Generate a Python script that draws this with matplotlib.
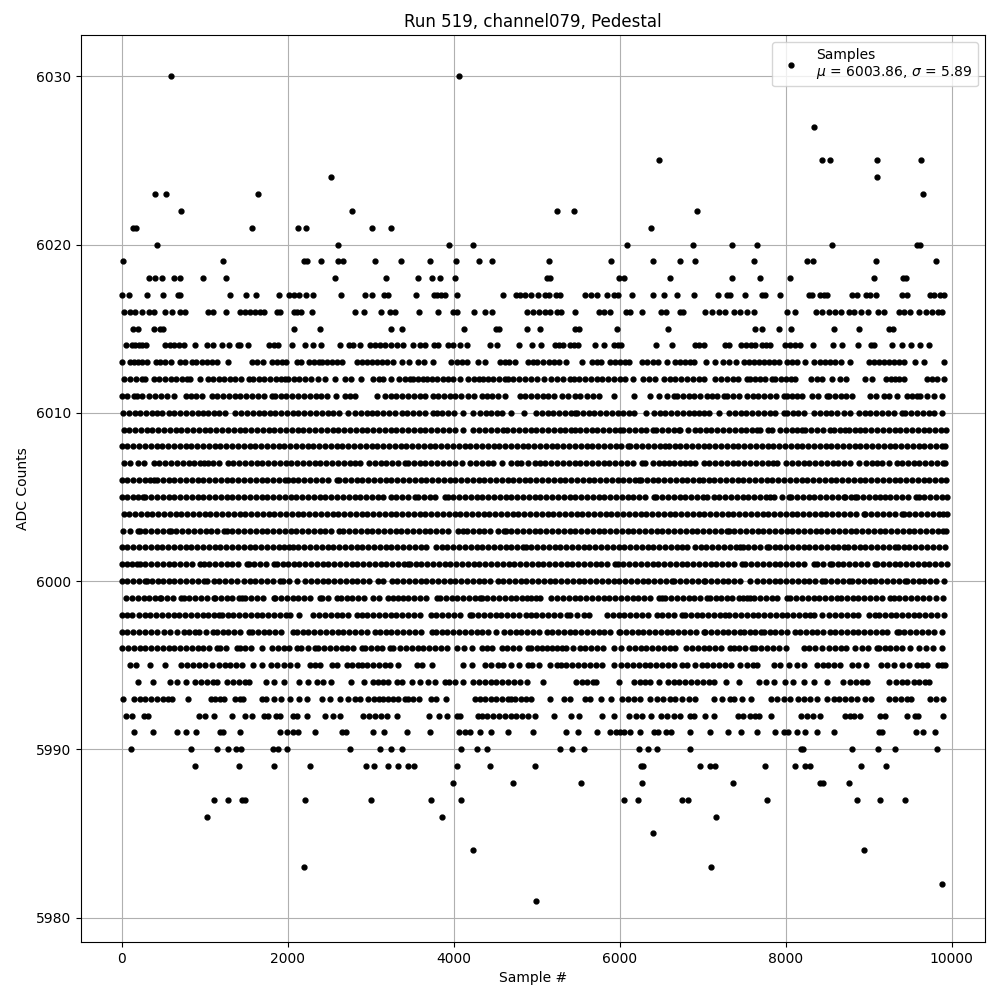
import matplotlib
matplotlib.use("Agg")
import matplotlib.pyplot as plt

# Sample numbers, one list per ADC count
adc_6030 = [600, 4060]
adc_6027 = [8337]
adc_6025 = [6470, 8434, 8530, 9096, 9626]
adc_6024 = [2518, 9096]
adc_6023 = [397, 530, 1648, 9650]
adc_6022 = [710, 2770, 5240, 5450, 6928]
adc_6021 = [135, 177, 1564, 2120, 2216, 3010, 3250, 6373]
adc_6020 = [421, 2600, 3946, 4235, 6084, 6880, 7349, 7650, 8554, 9582, 9622]
adc_6019 = [12, 1215, 2194, 2230, 2406, 2607, 2670, 3056, 3369, 3717, 4030, 4307, 4463, 5145, 5892, 6398, 6723, 6903,
            7614, 8253, 8325, 9084, 9807]
adc_6018 = [329, 401, 481, 626, 698, 974, 1251, 2574, 3188, 3573, 3741, 3834, 4018, 5125, 5165, 5988, 6048, 6602, 7349,
            7690, 8056, 9064, 9414, 9454]
adc_6017 = [0, 84, 300, 493, 674, 706, 1299, 1492, 1624, 1901, 2021, 2081, 2133, 2222, 2302, 2647, 2935, 3020, 3160,
            3204, 3549, 3766, 3802, 3842, 3898, 4042, 4595, 4756, 4804, 4856, 4932, 5020, 5105, 5145, 5237, 5285, 5578,
            5651, 5723, 5843, 5928, 5980, 6145, 6398, 6530, 6687, 6892, 7181, 7293, 7333, 7506, 7715, 7755, 7928, 8277,
            8317, 8418, 8458, 8498, 8803, 8859, 8972, 9020, 9084, 9401, 9462, 9735, 9791, 9855, 9904]
adc_6016 = [24, 96, 165, 241, 325, 385, 526, 606, 706, 762, 1036, 1096, 1251, 1428, 1488, 1548, 1608, 1668, 1720, 1869,
            1909, 2070, 2110, 2166, 2298, 2815, 2923, 3120, 3233, 3297, 3585, 3814, 3986, 4042, 4248, 4376, 4463, 4884,
            4950, 5024, 5104, 5165, 5245, 5293, 5458, 5747, 5815, 5880, 6080, 6128, 6265, 6498, 6562, 6723, 6763, 7032,
            7112, 7193, 7273, 7373, 7454, 7534, 7622, 8012, 8116, 8369, 8438, 8518, 8598, 8667, 8759, 8819, 8904, 8992,
            9108, 9181, 9370, 9430, 9502, 9602, 9687, 9763, 9831, 9888]
adc_6015 = [132, 193, 385, 458, 498, 2078, 2391, 3241, 3373, 4120, 4505, 4549, 4884, 5036, 5458, 5514, 5964, 6578, 7626,
            7711, 7915, 8060, 8578, 8880, 9245, 9293]
adc_6014 = [48, 124, 165, 205, 245, 293, 525, 578, 626, 686, 746, 878, 1024, 1096, 1203, 1288, 1396, 1428, 1516, 1777,
            1829, 1889, 2046, 2214, 2310, 2406, 2635, 2743, 2791, 2871, 2988, 3056, 3116, 3176, 3241, 3317, 3385, 3505,
            3597, 3658, 3758, 3806, 3934, 3994, 4078, 4154, 4433, 4517, 4784, 4941, 5056, 5217, 5265, 5317, 5398, 5446,
            5498, 5707, 5811, 5928, 5976, 6016, 6434, 6626, 6912, 6960, 7012, 7273, 7321, 7462, 7526, 7582, 7634, 7715,
            7763, 7815, 7996, 8056, 8116, 8177, 8325, 8566, 8675, 8867, 9028, 9068, 9277, 9398, 9506, 9614, 9723]
adc_6013 = [0, 96, 144, 193, 245, 305, 417, 465, 525, 594, 706, 766, 847, 899, 966, 1027, 1087, 1147, 1275, 1572, 1628,
            1708, 1809, 1869, 1929, 1981, 2110, 2158, 2254, 2314, 2374, 2414, 2478, 2530, 2590, 2651, 2839, 2891, 2951,
            3012, 3072, 3132, 3192, 3273, 3373, 3465, 3565, 3641, 3754, 3962, 4034, 4094, 4154, 4287, 4376, 4555, 4616,
            4668, 4740, 4896, 4957, 5004, 5076, 5145, 5205, 5265, 5353, 5542, 5667, 5727, 5775, 5888, 5948, 6008, 6068,
            6112, 6269, 6329, 6398, 6458, 6574, 6663, 6731, 6791, 6843, 6900, 7044, 7153, 7245, 7313, 7402, 7494, 7554,
            7614, 7675, 7735, 7795, 7855, 7915, 8012, 8072, 8133, 8237, 8345, 8418, 8478, 8538, 8598, 8667, 8779, 8999,
            9060, 9120, 9181, 9241, 9301, 9362, 9430, 9562, 9663, 9904]
adc_6012 = [32, 100, 170, 240, 285, 385, 450, 520, 590, 660, 730, 790, 826, 946, 1035, 1100, 1170, 1235, 1307, 1370,
            1440, 1528, 1588, 1650, 1720, 1790, 1860, 1925, 1969, 2009, 2075, 2140, 2210, 2280, 2370, 2450, 2574, 2691,
            2759, 2880, 3032, 3095, 3152, 3244, 3340, 3410, 3473, 3513, 3575, 3633, 3673, 3735, 3800, 3865, 3930, 3994,
            4078, 4174, 4240, 4300, 4355, 4415, 4476, 4545, 4616, 4656, 4720, 4790, 4860, 4930, 5000, 5084, 5173, 5240,
            5320, 5406, 5446, 5510, 5580, 5650, 5720, 5790, 5860, 5930, 6008, 6068, 6161, 6281, 6349, 6430, 6530, 6600,
            6670, 6740, 6810, 6880, 6950, 7012, 7153, 7220, 7290, 7360, 7430, 7534, 7574, 7635, 7695, 7747, 7835, 7875,
            7940, 8000, 8060, 8116, 8305, 8377, 8438, 8558, 8659, 8731, 8952, 9040, 9213, 9269, 9321, 9370, 9422, 9703,
            9763, 9823, 9912]
adc_6011 = [4, 60, 144, 184, 250, 325, 405, 470, 540, 634, 778, 834, 899, 966, 1087, 1150, 1220, 1290, 1360, 1430, 1500,
            1570, 1640, 1720, 1805, 1845, 1915, 1985, 2055, 2125, 2195, 2265, 2335, 2405, 2475, 2586, 2687, 2750, 2807,
            3072, 3172, 3240, 3310, 3380, 3450, 3520, 3590, 3660, 3754, 3814, 3880, 3950, 4020, 4090, 4174, 4243, 4336,
            4400, 4456, 4536, 4616, 4796, 4860, 4930, 5000, 5070, 5140, 5205, 5305, 5380, 5466, 5526, 5600, 5680, 5747,
            5928, 6169, 6369, 6478, 6570, 6650, 6691, 6760, 6830, 6900, 6970, 7052, 7112, 7173, 7253, 7293, 7365, 7434,
            7534, 7600, 7670, 7740, 7810, 7880, 7976, 8016, 8080, 8140, 8197, 8317, 8385, 8498, 8518, 8590, 8660, 8730,
            8799, 9020, 9085, 9181, 9241, 9341, 9462, 9520, 9582, 9622, 9703, 9783, 9884]
adc_6010 = [16, 85, 155, 225, 295, 365, 430, 485, 565, 635, 705, 775, 845, 915, 975, 1035, 1107, 1175, 1245, 1368, 1436,
            1510, 1580, 1650, 1720, 1788, 1849, 1920, 1990, 2060, 2130, 2200, 2270, 2340, 2410, 2480, 2550, 2620, 2723,
            2811, 2880, 2952, 3012, 3080, 3150, 3220, 3292, 3373, 3440, 3510, 3580, 3650, 3754, 3794, 3860, 3930, 4000,
            4114, 4235, 4316, 4385, 4455, 4525, 4576, 4684, 4844, 4997, 5060, 5130, 5200, 5270, 5340, 5410, 5466, 5486,
            5555, 5625, 5695, 5765, 5835, 5905, 5975, 6045, 6110, 6169, 6317, 6409, 6480, 6550, 6620, 6690, 6760, 6830,
            6900, 6960, 7012, 7072, 7201, 7313, 7385, 7455, 7525, 7595, 7665, 7735, 7805, 7875, 7976, 8016, 8085, 8150,
            8217, 8337, 8410, 8480, 8550, 8620, 8699, 8779, 8880, 8950, 9020, 9090, 9160, 9230, 9300, 9402, 9442, 9510,
            9580, 9650, 9720, 9790, 9884]
adc_6009 = [24, 90, 160, 230, 300, 370, 440, 510, 580, 650, 720, 790, 860, 930, 1000, 1070, 1140, 1210, 1280, 1350,
            1420, 1490, 1560, 1630, 1700, 1770, 1840, 1910, 1980, 2050, 2120, 2190, 2260, 2330, 2400, 2470, 2540, 2610,
            2680, 2750, 2820, 2890, 2960, 3030, 3100, 3170, 3240, 3310, 3380, 3450, 3520, 3590, 3660, 3730, 3800, 3870,
            3940, 4014, 4114, 4235, 4307, 4380, 4450, 4520, 4590, 4636, 4716, 4785, 4855, 4925, 4995, 5065, 5135, 5205,
            5275, 5345, 5415, 5466, 5518, 5590, 5660, 5730, 5800, 5870, 5940, 6000, 6040, 6110, 6180, 6250, 6320, 6402,
            6442, 6510, 6580, 6650, 6711, 6731, 6820, 6903, 6964, 7035, 7105, 7175, 7245, 7315, 7385, 7455, 7525, 7595,
            7654, 7695, 7783, 7835, 7928, 8000, 8070, 8140, 8197, 8237, 8305, 8375, 8445, 8538, 8578, 8650, 8719, 8759,
            8830, 8892, 8960, 9030, 9100, 9170, 9240, 9310, 9380, 9450, 9520, 9590, 9660, 9730, 9800, 9870, 9936]
adc_6008 = [0, 70, 140, 210, 280, 350, 420, 490, 560, 630, 700, 770, 840, 910, 980, 1050, 1120, 1190, 1260, 1330, 1400,
            1470, 1540, 1610, 1680, 1750, 1820, 1890, 1960, 2030, 2100, 2170, 2240, 2310, 2380, 2450, 2520, 2590, 2660,
            2730, 2800, 2870, 2940, 3010, 3080, 3150, 3220, 3290, 3360, 3430, 3500, 3570, 3640, 3710, 3780, 3850, 3920,
            3990, 4060, 4130, 4200, 4270, 4340, 4410, 4480, 4550, 4620, 4690, 4760, 4830, 4900, 4970, 5040, 5110, 5180,
            5250, 5320, 5390, 5460, 5530, 5600, 5670, 5740, 5810, 5880, 5950, 6020, 6100, 6128, 6200, 6270, 6340, 6410,
            6480, 6550, 6590, 6660, 6730, 6800, 6870, 6940, 7010, 7080, 7150, 7220, 7290, 7360, 7430, 7500, 7570, 7640,
            7710, 7780, 7850, 7920, 7990, 8060, 8130, 8200, 8270, 8340, 8410, 8480, 8550, 8620, 8690, 8760, 8830, 8900,
            8970, 9040, 9110, 9180, 9250, 9320, 9390, 9460, 9530, 9600, 9670, 9740, 9810, 9880, 9924]
adc_6007 = [32, 100, 197, 265, 385, 455, 525, 595, 665, 735, 805, 875, 945, 995, 1035, 1099, 1170, 1275, 1347, 1415,
            1485, 1555, 1625, 1695, 1765, 1835, 1905, 1975, 2045, 2115, 2185, 2255, 2325, 2395, 2465, 2535, 2605, 2675,
            2745, 2815, 2871, 2983, 3050, 3120, 3190, 3260, 3330, 3413, 3453, 3520, 3590, 3660, 3730, 3800, 3870, 3940,
            4010, 4094, 4195, 4265, 4335, 4416, 4476, 4576, 4696, 4760, 4816, 4896, 4977, 5040, 5105, 5175, 5245, 5315,
            5385, 5455, 5525, 5595, 5665, 5735, 5805, 5875, 5945, 6015, 6085, 6155, 6269, 6301, 6398, 6470, 6530, 6590,
            6651, 6720, 6790, 6850, 6912, 7012, 7080, 7150, 7220, 7290, 7360, 7430, 7500, 7570, 7640, 7710, 7780, 7850,
            7896, 8004, 8075, 8145, 8215, 8285, 8355, 8425, 8495, 8565, 8635, 8705, 8775, 8880, 8972, 9040, 9100, 9161,
            9241, 9341, 9402, 9470, 9540, 9610, 9680, 9750, 9820, 9890, 9924]
adc_6006 = [0, 70, 140, 210, 280, 340, 385, 425, 495, 565, 635, 705, 775, 845, 915, 985, 1055, 1125, 1195, 1265, 1335,
            1405, 1475, 1545, 1615, 1685, 1755, 1825, 1895, 1965, 2009, 2061, 2130, 2200, 2270, 2340, 2410, 2480, 2591,
            2623, 2690, 2760, 2830, 2900, 2970, 3040, 3110, 3180, 3250, 3320, 3390, 3460, 3530, 3600, 3670, 3740, 3810,
            3880, 3950, 4020, 4090, 4160, 4230, 4300, 4370, 4440, 4510, 4580, 4650, 4720, 4790, 4860, 4924, 4996, 5065,
            5135, 5205, 5275, 5345, 5415, 5485, 5555, 5625, 5695, 5765, 5835, 5905, 5975, 6045, 6115, 6185, 6229, 6257,
            6325, 6395, 6465, 6535, 6605, 6675, 6745, 6815, 6885, 6955, 7004, 7072, 7140, 7210, 7280, 7350, 7420, 7490,
            7560, 7630, 7700, 7770, 7840, 7910, 7980, 8050, 8120, 8190, 8260, 8330, 8400, 8470, 8540, 8610, 8680, 8750,
            8820, 8890, 8960, 9030, 9100, 9170, 9240, 9310, 9380, 9450, 9520, 9590, 9660, 9730, 9800, 9870, 9936]
adc_6005 = [0, 70, 140, 200, 257, 285, 355, 425, 495, 565, 635, 705, 775, 845, 915, 985, 1055, 1125, 1195, 1265, 1335,
            1405, 1475, 1545, 1615, 1685, 1755, 1825, 1895, 1965, 2035, 2105, 2175, 2245, 2315, 2385, 2455, 2525, 2595,
            2665, 2735, 2805, 2875, 2945, 3015, 3085, 3152, 3240, 3310, 3380, 3450, 3533, 3573, 3640, 3710, 3780, 3894,
            3926, 3995, 4065, 4135, 4205, 4275, 4345, 4415, 4485, 4555, 4625, 4695, 4765, 4835, 4905, 4975, 5045, 5115,
            5185, 5255, 5325, 5395, 5465, 5535, 5605, 5675, 5745, 5815, 5885, 5955, 6025, 6095, 6165, 6235, 6305, 6410,
            6442, 6510, 6580, 6650, 6720, 6790, 6860, 6930, 7000, 7052, 7132, 7200, 7270, 7340, 7410, 7480, 7550, 7620,
            7690, 7760, 7815, 7863, 7950, 8036, 8064, 8135, 8205, 8275, 8345, 8415, 8485, 8555, 8625, 8699, 8719, 8780,
            8839, 8859, 8930, 9000, 9070, 9141, 9201, 9261, 9330, 9400, 9470, 9574, 9602, 9670, 9740, 9810, 9880, 9944]
adc_6004 = [24, 90, 160, 230, 300, 370, 440, 510, 580, 650, 720, 790, 860, 930, 1000, 1070, 1140, 1210, 1280, 1350,
            1420, 1490, 1560, 1630, 1700, 1770, 1840, 1910, 1980, 2050, 2120, 2190, 2260, 2330, 2400, 2470, 2540, 2610,
            2680, 2750, 2820, 2890, 2960, 3030, 3100, 3170, 3240, 3310, 3380, 3450, 3520, 3590, 3660, 3730, 3800, 3870,
            3940, 4010, 4080, 4150, 4220, 4290, 4360, 4430, 4500, 4570, 4640, 4710, 4780, 4850, 4924, 4990, 5060, 5130,
            5200, 5270, 5340, 5410, 5480, 5550, 5620, 5690, 5760, 5830, 5900, 5970, 6040, 6110, 6180, 6250, 6320, 6390,
            6460, 6530, 6600, 6670, 6740, 6810, 6880, 6950, 7020, 7090, 7160, 7230, 7300, 7370, 7440, 7510, 7580, 7650,
            7720, 7790, 7860, 7930, 8000, 8070, 8140, 8210, 8280, 8350, 8420, 8490, 8560, 8630, 8700, 8770, 8840, 8940,
            8960, 9030, 9100, 9170, 9240, 9310, 9402, 9422, 9490, 9560, 9630, 9700, 9770, 9840, 9900, 9944]
adc_6003 = [16, 100, 193, 217, 285, 355, 425, 495, 565, 593, 660, 730, 800, 870, 940, 1010, 1080, 1150, 1227, 1267,
            1335, 1405, 1475, 1545, 1615, 1685, 1755, 1825, 1895, 1965, 2035, 2105, 2175, 2245, 2315, 2385, 2455, 2525,
            2623, 2671, 2740, 2810, 2880, 2950, 3020, 3090, 3160, 3230, 3300, 3370, 3440, 3510, 3580, 3650, 3720, 3790,
            3860, 3930, 4046, 4114, 4162, 4230, 4300, 4370, 4440, 4530, 4604, 4628, 4695, 4765, 4835, 4905, 4975, 5045,
            5115, 5185, 5255, 5325, 5395, 5465, 5535, 5605, 5675, 5745, 5815, 5885, 5955, 6025, 6095, 6165, 6235, 6305,
            6375, 6445, 6515, 6585, 6655, 6725, 6795, 6865, 6935, 7005, 7075, 7145, 7215, 7293, 7313, 7380, 7450, 7520,
            7590, 7660, 7730, 7800, 7870, 7940, 8010, 8080, 8150, 8220, 8290, 8360, 8430, 8500, 8570, 8640, 8710, 8780,
            8850, 8920, 8990, 9060, 9130, 9200, 9270, 9340, 9410, 9480, 9550, 9620, 9690, 9760, 9830, 9900, 9936]
adc_6002 = [0, 70, 140, 210, 280, 350, 420, 490, 560, 630, 700, 770, 840, 910, 980, 1050, 1120, 1190, 1260, 1330, 1400,
            1470, 1540, 1610, 1680, 1750, 1820, 1890, 1960, 2021, 2061, 2130, 2200, 2270, 2340, 2410, 2480, 2550, 2620,
            2690, 2760, 2830, 2900, 2970, 3040, 3110, 3180, 3250, 3320, 3390, 3460, 3530, 3600, 3670, 3786, 3854, 3925,
            3995, 4065, 4135, 4205, 4275, 4345, 4415, 4485, 4555, 4625, 4695, 4765, 4836, 4868, 4935, 5005, 5075, 5145,
            5215, 5285, 5355, 5425, 5495, 5565, 5635, 5705, 5775, 5845, 5915, 5985, 6055, 6125, 6195, 6265, 6335, 6405,
            6475, 6545, 6615, 6685, 6750, 6811, 6904, 6975, 7045, 7115, 7185, 7255, 7325, 7395, 7454, 7482, 7550, 7620,
            7690, 7775, 7795, 7865, 7935, 8005, 8075, 8145, 8215, 8285, 8355, 8425, 8495, 8565, 8635, 8699, 8747, 8819,
            8890, 8960, 9030, 9100, 9170, 9240, 9321, 9349, 9420, 9490, 9560, 9630, 9700, 9770, 9840, 9916]
adc_6001 = [0, 70, 130, 185, 217, 285, 355, 425, 495, 565, 635, 705, 775, 845, 946, 986, 1055, 1125, 1195, 1265, 1335,
            1405, 1508, 1528, 1600, 1670, 1740, 1829, 1869, 1949, 2001, 2070, 2140, 2210, 2280, 2350, 2420, 2490, 2560,
            2630, 2700, 2770, 2840, 2910, 2980, 3050, 3120, 3190, 3260, 3330, 3400, 3453, 3473, 3540, 3610, 3680, 3750,
            3820, 3890, 3960, 4030, 4100, 4170, 4240, 4310, 4380, 4450, 4520, 4590, 4660, 4730, 4800, 4870, 4940, 5010,
            5080, 5150, 5220, 5290, 5360, 5430, 5500, 5570, 5640, 5710, 5780, 5850, 5948, 5976, 6045, 6115, 6185, 6255,
            6325, 6395, 6465, 6535, 6605, 6675, 6745, 6815, 6885, 6955, 7025, 7095, 7165, 7235, 7305, 7375, 7474, 7514,
            7585, 7655, 7725, 7795, 7865, 7935, 8005, 8075, 8145, 8215, 8337, 8377, 8450, 8538, 8558, 8625, 8695, 8765,
            8835, 8905, 8975, 9080, 9100, 9170, 9240, 9310, 9380, 9450, 9520, 9590, 9660, 9730, 9800, 9870, 9944]
adc_6000 = [0, 70, 140, 210, 285, 305, 370, 433, 497, 565, 635, 705, 775, 845, 915, 986, 1027, 1107, 1175, 1245, 1315,
            1385, 1468, 1548, 1608, 1680, 1750, 1820, 1909, 1941, 2021, 2110, 2210, 2280, 2350, 2420, 2490, 2560, 2630,
            2700, 2770, 2840, 2910, 2980, 3092, 3148, 3253, 3320, 3390, 3460, 3530, 3600, 3670, 3740, 3810, 3880, 3950,
            4020, 4090, 4160, 4230, 4300, 4370, 4440, 4536, 4596, 4665, 4735, 4805, 4875, 4945, 5015, 5085, 5155, 5225,
            5295, 5365, 5435, 5505, 5575, 5645, 5715, 5785, 5855, 5925, 5995, 6065, 6135, 6205, 6275, 6345, 6415, 6485,
            6555, 6630, 6659, 6730, 6800, 6870, 6940, 7012, 7032, 7100, 7170, 7240, 7310, 7380, 7450, 7574, 7655, 7725,
            7795, 7865, 7935, 8005, 8075, 8145, 8215, 8285, 8355, 8438, 8478, 8550, 8620, 8690, 8759, 8799, 8870, 8940,
            9010, 9080, 9150, 9220, 9290, 9360, 9442, 9462, 9530, 9600, 9670, 9740, 9810, 9904]
adc_5999 = [56, 125, 195, 265, 335, 405, 465, 473, 545, 615, 714, 746, 815, 885, 955, 1025, 1107, 1127, 1195, 1265,
            1335, 1408, 1448, 1488, 1560, 1630, 1700, 1829, 1849, 1920, 1990, 2060, 2130, 2200, 2270, 2390, 2410, 2480,
            2599, 2639, 2710, 2780, 2850, 2920, 3032, 3104, 3212, 3270, 3332, 3385, 3455, 3525, 3595, 3665, 3794, 3834,
            3905, 3975, 4045, 4115, 4185, 4255, 4315, 4335, 4405, 4475, 4545, 4615, 4685, 4755, 4825, 4884, 4925, 4995,
            5044, 5173, 5245, 5315, 5385, 5455, 5525, 5595, 5665, 5735, 5805, 5875, 5945, 6015, 6085, 6155, 6225, 6295,
            6365, 6470, 6510, 6550, 6620, 6690, 6760, 6830, 6900, 6970, 7052, 7084, 7155, 7225, 7295, 7353, 7434, 7486,
            7534, 7574, 7622, 7690, 7760, 7830, 7900, 8016, 8056, 8125, 8195, 8265, 8335, 8405, 8475, 8545, 8619, 8667,
            8735, 8805, 8875, 8945, 9015, 9085, 9155, 9261, 9301, 9370, 9440, 9510, 9580, 9650, 9720, 9815, 9896]
adc_5998 = [0, 60, 124, 205, 275, 345, 415, 485, 555, 625, 695, 765, 835, 905, 975, 1045, 1115, 1167, 1207, 1275, 1345,
            1415, 1485, 1555, 1625, 1695, 1765, 1835, 1905, 1981, 2029, 2141, 2310, 2380, 2450, 2520, 2590, 2660, 2730,
            2839, 2891, 2960, 3030, 3100, 3170, 3240, 3310, 3380, 3450, 3520, 3593, 3722, 3790, 3860, 3930, 4000, 4070,
            4194, 4226, 4295, 4365, 4435, 4505, 4575, 4645, 4715, 4785, 4868, 4925, 4995, 5065, 5135, 5205, 5275, 5365,
            5406, 5480, 5566, 5627, 5847, 5915, 5985, 6055, 6125, 6195, 6265, 6335, 6450, 6510, 6580, 6650, 6751, 6783,
            6855, 6925, 6995, 7065, 7135, 7205, 7273, 7321, 7390, 7460, 7530, 7600, 7670, 7740, 7810, 7880, 7950, 8020,
            8090, 8160, 8230, 8297, 8345, 8438, 8526, 8595, 8665, 8735, 8805, 8875, 9000, 9080, 9125, 9195, 9265, 9333,
            9402, 9470, 9540, 9610, 9680, 9750, 9820, 9904]
adc_5997 = [0, 70, 140, 210, 280, 350, 420, 513, 586, 666, 746, 810, 878, 930, 1010, 1095, 1147, 1215, 1285, 1355, 1425,
            1528, 1568, 1640, 1710, 1780, 1850, 1920, 2061, 2110, 2180, 2250, 2320, 2390, 2460, 2530, 2600, 2670, 2740,
            2810, 2880, 2950, 3052, 3112, 3180, 3250, 3320, 3390, 3460, 3530, 3600, 3734, 3786, 3855, 3925, 3995, 4065,
            4135, 4205, 4275, 4345, 4415, 4515, 4604, 4675, 4745, 4815, 4885, 4955, 5025, 5125, 5185, 5255, 5325, 5395,
            5465, 5535, 5605, 5675, 5745, 5815, 5885, 5988, 6008, 6075, 6145, 6215, 6285, 6355, 6425, 6495, 6565, 6635,
            6705, 6775, 6845, 6915, 7012, 7032, 7100, 7170, 7240, 7310, 7380, 7454, 7494, 7565, 7635, 7703, 7735, 7805,
            7875, 7945, 8015, 8116, 8169, 8240, 8310, 8380, 8450, 8538, 8598, 8665, 8735, 8805, 8875, 8945, 9015, 9085,
            9155, 9225, 9341, 9361, 9430, 9500, 9570, 9640, 9710, 9780, 9884]
adc_5996 = [4, 75, 145, 215, 285, 355, 425, 495, 565, 635, 705, 775, 845, 915, 985, 1055, 1147, 1187, 1260, 1388, 1428,
            1490, 1556, 1696, 1809, 1880, 1950, 2020, 2110, 2162, 2240, 2330, 2370, 2440, 2510, 2580, 2650, 2720, 2790,
            2891, 2931, 3000, 3070, 3140, 3232, 3272, 3350, 3425, 3493, 3565, 3635, 3705, 3775, 3845, 3915, 4034, 4126,
            4222, 4335, 4400, 4456, 4576, 4645, 4715, 4785, 4896, 4936, 5000, 5060, 5125, 5185, 5245, 5305, 5357, 5440,
            5526, 5586, 5655, 5725, 5795, 5928, 6012, 6108, 6180, 6250, 6320, 6390, 6460, 6530, 6600, 6670, 6803, 6871,
            6940, 7010, 7080, 7150, 7220, 7333, 7373, 7440, 7510, 7594, 7634, 7705, 7775, 7845, 7915, 8008, 8217, 8285,
            8355, 8438, 8518, 8590, 8660, 8730, 8839, 8920, 8990, 9100, 9120, 9190, 9260, 9330, 9402, 9502, 9602, 9691,
            9775, 9880]
adc_5995 = [96, 176, 337, 517, 718, 790, 860, 930, 1000, 1087, 1167, 1240, 1310, 1380, 1444, 1588, 1688, 1797, 1869,
            1950, 2029, 2110, 2270, 2330, 2390, 2530, 2590, 2711, 2780, 2851, 2891, 2960, 3030, 3100, 3170, 3232, 3332,
            3553, 3621, 3741, 4114, 4226, 4375, 4450, 4535, 4595, 4684, 4788, 4896, 4948, 5024, 5165, 5245, 5293, 5357,
            5430, 5500, 5570, 5640, 5710, 5787, 5928, 6016, 6090, 6160, 6230, 6300, 6370, 6440, 6510, 6580, 6650, 6751,
            6811, 6912, 6985, 7055, 7125, 7195, 7265, 7335, 7454, 7534, 7600, 7655, 7855, 7925, 8036, 8137, 8225, 8377,
            8450, 8510, 8578, 8651, 8799, 8870, 8972, 9149, 9225, 9301, 9402, 9482, 9582, 9640, 9703, 9831, 9880, 9924]
adc_5994 = [197, 373, 585, 666, 770, 886, 960, 1030, 1100, 1147, 1267, 1340, 1410, 1480, 1528, 1736, 1837, 1961, 2141,
            2250, 2350, 2422, 2518, 2767, 2923, 3032, 3090, 3144, 3212, 3312, 3380, 3493, 3597, 3693, 3773, 3894, 3946,
            4014, 4114, 4235, 4305, 4375, 4445, 4515, 4585, 4655, 4725, 4796, 4880, 5072, 5474, 5540, 5610, 5680, 5719,
            5988, 6169, 6240, 6310, 6369, 6470, 6578, 6650, 6711, 6791, 6860, 6930, 7000, 7070, 7133, 7277, 7434, 7675,
            7760, 7855, 7988, 8084, 8217, 8337, 8494, 8687, 8779, 8850, 8920, 8980, 9241, 9333, 9400, 9462, 9542, 9602,
            9675, 9723]
adc_5993 = [12, 144, 217, 285, 355, 425, 495, 560, 606, 794, 1079, 1127, 1187, 1235, 1368, 1420, 1460, 1688, 1736, 1837,
            1925, 2033, 2133, 2230, 2410, 2510, 2635, 2731, 2811, 2871, 2971, 3040, 3105, 3152, 3212, 3273, 3332, 3413,
            3453, 3513, 3585, 3725, 3786, 3910, 4255, 4315, 4375, 4445, 4515, 4585, 4655, 4696, 4736, 4805, 4875, 4928,
            5157, 5325, 5398, 5586, 5647, 5771, 5892, 6028, 6100, 6169, 6241, 6369, 6445, 6522, 6602, 6663, 6751, 6831,
            6912, 7133, 7229, 7325, 7381, 7474, 7582, 7823, 7900, 7975, 8056, 8145, 8217, 8290, 8377, 8498, 8586, 8639,
            8710, 8785, 8859, 8952, 9028, 9241, 9315, 9390, 9462, 9510, 9743, 9815, 9896]
adc_5992 = [52, 124, 265, 317, 926, 998, 1107, 1335, 1480, 1564, 1716, 1768, 1857, 1913, 2061, 2117, 2238, 2454, 2550,
            2631, 2911, 2985, 3055, 3125, 3192, 3321, 3705, 3818, 3922, 4034, 4074, 4295, 4345, 4396, 4476, 4545, 4615,
            4685, 4755, 4825, 4895, 4984, 5213, 5410, 5514, 5783, 5928, 6108, 6190, 6269, 6377, 6502, 6570, 6650, 6731,
            6843, 6900, 7032, 7133, 7422, 7482, 7574, 7625, 7675, 7819, 8185, 8260, 8330, 8410, 8719, 8770, 8819, 8892,
            9133, 9193, 9462, 9562, 9594, 9896]
adc_5991 = [144, 373, 662, 770, 894, 1187, 1219, 1420, 1913, 1997, 2060, 2129, 2334, 2651, 2703, 3032, 3164, 3441, 3717,
            4066, 4134, 4202, 4315, 4451, 4656, 4957, 5353, 5494, 5731, 5888, 5950, 6005, 6048, 6120, 6241, 6418, 6458,
            6558, 6618, 6843, 7084, 7301, 7458, 7650, 7867, 7984, 8024, 8133, 8233, 8374, 8578, 9128, 9165, 9566, 9650,
            9795]
adc_5990 = [112, 830, 1143, 1275, 1376, 1436, 1821, 1889, 1989, 2755, 3116, 3248, 3381, 4090, 4283, 4403, 5277, 5422,
            5566, 6229, 6337, 6446, 6843, 8185, 8209, 8795, 9108, 9313, 9819]
adc_5989 = [878, 1408, 1829, 2274, 2947, 3044, 3212, 3332, 3453, 3525, 4042, 4439, 4976, 6257, 6281, 6964, 7084, 7153,
            7747, 8108, 8237, 8297, 8904, 9205]
adc_5988 = [3994, 4716, 5530, 6265, 7361, 8410, 8446, 8767]
adc_5987 = [1107, 1275, 1448, 1480, 2214, 3008, 3729, 4090, 6048, 6217, 6747, 6819, 7771, 8855, 9133, 9434]
adc_5986 = [1023, 3862, 7157]
adc_5985 = [6398]
adc_5984 = [4235, 8940]
adc_5983 = [2193, 7102]
adc_5982 = [9880]
adc_5981 = [4990]

levels = [6030, 6027, 6025, 6024, 6023, 6022, 6021, 6020, 6019, 6018, 6017, 6016, 6015, 6014, 6013, 6012, 6011, 6010,
          6009, 6008, 6007, 6006, 6005, 6004, 6003, 6002, 6001, 6000, 5999, 5998, 5997, 5996, 5995, 5994, 5993, 5992,
          5991, 5990, 5989, 5988, 5987, 5986, 5985, 5984, 5983, 5982, 5981]
samples_by_level = [adc_6030, adc_6027, adc_6025, adc_6024, adc_6023, adc_6022, adc_6021, adc_6020, adc_6019, adc_6018,
                    adc_6017, adc_6016, adc_6015, adc_6014, adc_6013, adc_6012, adc_6011, adc_6010, adc_6009, adc_6008,
                    adc_6007, adc_6006, adc_6005, adc_6004, adc_6003, adc_6002, adc_6001, adc_6000, adc_5999, adc_5998,
                    adc_5997, adc_5996, adc_5995, adc_5994, adc_5993, adc_5992, adc_5991, adc_5990, adc_5989, adc_5988,
                    adc_5987, adc_5986, adc_5985, adc_5984, adc_5983, adc_5982, adc_5981]

mean = 6003.86
sigma = 5.89

# Flatten to one series
xs = []
ys = []
for level, samples in zip(levels, samples_by_level):
    xs += samples
    ys += [level] * len(samples)

fig, ax = plt.subplots(figsize=(10, 10), dpi=100)
ax.plot(xs, ys, 'k.', markersize=7, label='Samples\n$\\mu$ = %.2f, $\\sigma$ = %.2f' % (mean, sigma))
ax.set_title('Run 519, channel079, Pedestal')
ax.set_xlabel('Sample #')
ax.set_ylabel('ADC Counts')
ax.set_xlim(-490, 10400)
ax.grid(True)
ax.legend(loc='upper right')
fig.subplots_adjust(left=0.081, right=0.985, top=0.965, bottom=0.058)
fig.savefig('out.png')
